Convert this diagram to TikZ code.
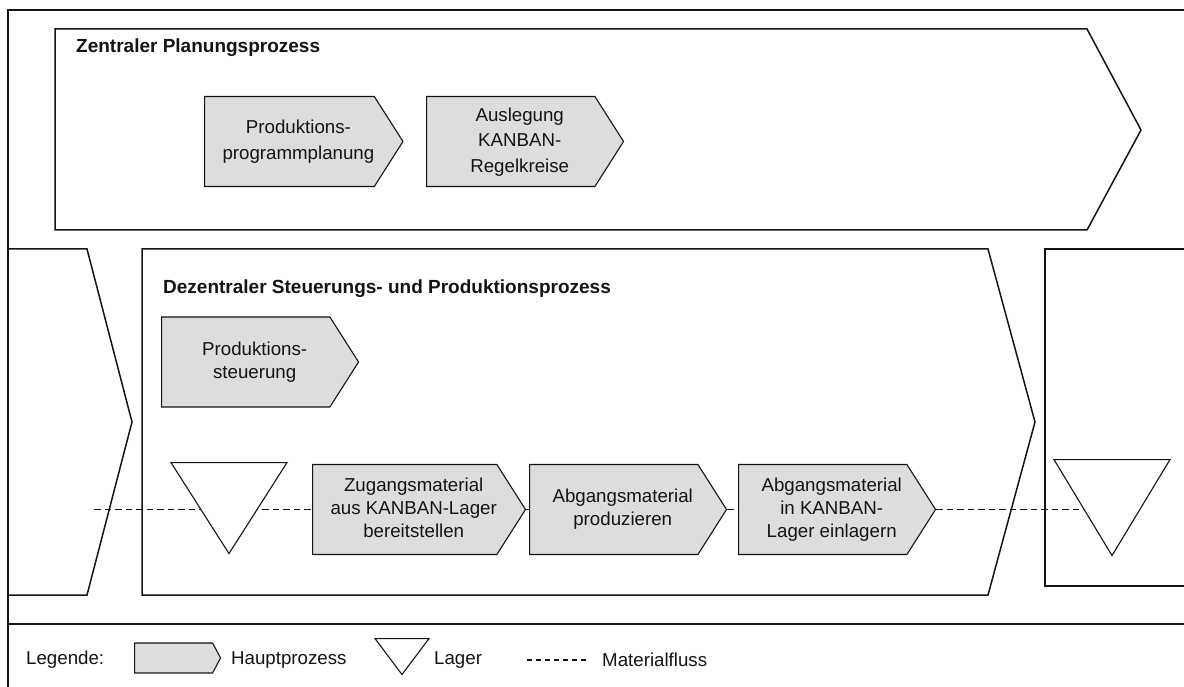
\documentclass[tikz,border=0pt]{standalone}
\usepackage{fontspec}
\setmainfont{Liberation Sans}
\usetikzlibrary{shapes.symbols,shapes.geometric}
\definecolor{procgray}{RGB}{221,221,221}
\definecolor{inkline}{RGB}{20,20,20}
\definecolor{inktext}{RGB}{20,20,20}
% centred lines, nudged right so they sit between body and pointer
\newcommand\proctext[1]{\begin{tabular}{@{\hspace{18pt}}c@{}}#1\end{tabular}}
\pgfdeclarelayer{paper}
\pgfdeclarelayer{flows}
\pgfsetlayers{paper,flows,main}
\begin{document}
\begin{tikzpicture}[x=1pt,y=-1pt,
  every node/.style={font=\fontsize{18.7}{23}\selectfont,text=inktext},
  frameline/.style={draw=inkline,line width=1.8pt},
  arealine/.style={draw=inkline,line width=1.5pt},
  heading/.style={anchor=west,inner sep=0pt,font=\fontsize{19}{23}\selectfont\bfseries},
  plain/.style={anchor=west,inner sep=0pt},
  process/.style={signal,signal to=east,signal pointer angle=115,draw=inkline,
    line width=1.1pt,fill=procgray,inner sep=0pt,
    minimum width=197pt,minimum height=90pt,anchor=west},
  planproc/.style={process,font=\fontsize{18.7}{25.5}\selectfont},
  lager/.style={isosceles triangle,shape border rotate=270,isosceles triangle stretches,
    draw=inkline,line width=1.1pt,fill=white,inner sep=0pt,
    minimum width=116pt,minimum height=91pt,anchor=apex},
  flow/.style={draw=inkline,line width=1.6pt,dash pattern=on 6.5pt off 4pt}
]
\useasboundingbox (0,0) rectangle (1184,687);
\clip (0,0) rectangle (1184,687);
\begin{pgfonlayer}{paper}
  \fill[white] (0,0) rectangle (1184,687);
\end{pgfonlayer}

% outer frame and legend separator
\draw[frameline] (1200,10) -- (8,10) -- (8,700);
\draw[frameline] (8,624) -- (1200,624);

% central planning
\draw[arealine] (55,29) -- (1087,29) -- (1141,130) -- (1087,230) -- (55,230) -- cycle;
\node[heading] (ztitle) at (76,48) {Zentraler Planungsprozess};
\node[planproc] (pp) at (204,141.5) {\proctext{Produktions-\\programmplanung}};
\node[planproc] (kr) at (426,141.5) {\proctext{Auslegung\\KANBAN-\\Regelkreise}};

% decentral control and production
\draw[arealine] (8,249) -- (87,249) -- (132,422) -- (87,595) -- (8,595);
\draw[arealine] (142,249) -- (988,249) -- (1035,422) -- (988,595) -- (142,595) -- cycle;
\draw[arealine] (1200,249) -- (1045,249) -- (1045,586) -- (1200,586);
\node[heading] (dtitle) at (163,289) {Dezentraler Steuerungs- und Produktionsprozess};
\node[process] (st) at (161,362) {\proctext{Produktions-\\steuerung}};
\node[process] (zug) at (312,509.5) {\proctext{Zugangsmaterial\\aus KANBAN-Lager\\bereitstellen}};
\node[process] (prod) at (529,509.5) {\proctext{Abgangsmaterial\\produzieren}};
\node[process] (einl) at (738,509.5) {\proctext{Abgangsmaterial\\in KANBAN-\\Lager einlagern}};
\node[lager] (lagerL) at (229,555) {};
\node[lager,minimum height=96pt] (lagerR) at (1112,557) {};

% material flow
\coordinate (flowin) at (94,509.5);
\begin{pgfonlayer}{flows}
  \draw[flow] (flowin) -- (zug.west);
  \draw[flow] (zug.east) -- (prod.west);
  \draw[flow] (prod.east) -- (einl.west);
  \draw[flow] (einl.east) -- (einl.east -| lagerR.apex);
\end{pgfonlayer}

% legend
\node[plain] (legtitle) at (26,660) {Legende:};
\node[process,minimum width=86pt,minimum height=30pt,signal pointer angle=124] (legproc) at (134,658) {};
\node[plain] (leghp) at (231,660) {Hauptprozess};
\node[lager,minimum width=54pt,minimum height=36pt] (leglager) at (402,676) {};
\node[plain] (leglg) at (434,660) {Lager};
\coordinate (legflowA) at (527,660);
\coordinate (legflowB) at (589,660);
\draw[flow,line width=1.3pt,dash pattern=on 5pt off 4pt] (legflowA) -- (legflowB);
\node[plain] (legmf) at (602,660) {Materialfluss};
\end{tikzpicture}
\end{document}
